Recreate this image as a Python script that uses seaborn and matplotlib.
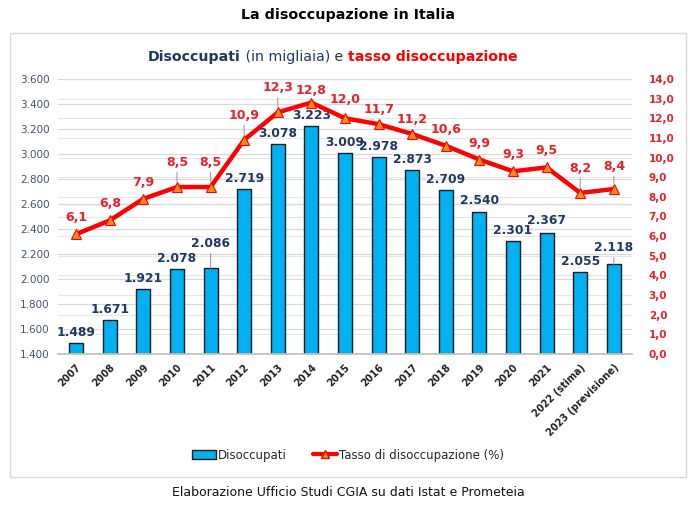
import matplotlib
matplotlib.use("Agg")
import matplotlib.pyplot as plt
from matplotlib.patches import Rectangle, Patch
from matplotlib.lines import Line2D
import seaborn as sns
import numpy as np
import pandas as pd

years = ["2007", "2008", "2009", "2010", "2011", "2012", "2013", "2014", "2015",
         "2016", "2017", "2018", "2019", "2020", "2021", "2022 (stima)", "2023 (previsione)"]
disoccupati = [1489, 1671, 1921, 2078, 2086, 2719, 3078, 3223, 3009, 2978, 2873,
               2709, 2540, 2301, 2367, 2055, 2118]
tasso = [6.1, 6.8, 7.9, 8.5, 8.5, 10.9, 12.3, 12.8, 12.0, 11.7, 11.2, 10.6, 9.9,
         9.3, 9.5, 8.2, 8.4]
left_ticks = list(range(1400, 3601, 200))
right_ticks = list(range(0, 15))

# label styles (pixel offsets, leader line flags)
bar_off = [4, 4, 4, 4, 18, 4, 4, 4, 4, 4, 4, 4, 4, 4, 6, 4, 10]
bar_lead = [False, False, False, False, True, False, False, False, False, False,
            False, False, False, False, False, False, True]
line_off = [4, 4, 4, 12, 12, 12, 12, 0, 6, 2, 2, 4, 4, 4, 4, 12, 10]
line_lead = [False, False, False, True, True, True, True, False, False, False,
             False, False, False, False, False, True, True]

NAVY = "#1F3864"
RED = "#FF0000"
LRED = "#E8202A"

sns.set_theme(style="white")
plt.rcParams["font.family"] = ["DejaVu Sans"]

W, H = 696, 522
fig = plt.figure(figsize=(W / 100, H / 100), dpi=100)

# frame
fig.patches.append(Rectangle((10 / W, 1 - 477 / H), 676 / W, 444 / H,
                             transform=fig.transFigure, fill=False,
                             edgecolor="#d9d9d9", linewidth=1.0))

ax = fig.add_axes([58 / W, 1 - 354 / H, 574 / W, 275 / H])
df = pd.DataFrame({"anno": years, "disoccupati": disoccupati, "tasso": tasso,
                   "pos": np.arange(len(years))})

sns.barplot(data=df, x="anno", y="disoccupati", ax=ax, color="#00B0F0",
            edgecolor="#1a1a1a", linewidth=1.0, width=0.42, saturation=1)
ax.set_ylim(1400, 3600)
ax.set_xlim(-0.54, len(years) - 0.46)
ax.set_yticks(left_ticks)
ax.set_yticklabels([f"{v:,}".replace(",", ".") for v in left_ticks],
                   fontsize=7.5, color="#44546A")
ax.set_xlabel("")
ax.set_ylabel("")
ax.set_xticks(np.arange(len(years)))
ax.set_xticklabels(years, rotation=45, ha="right", rotation_mode="anchor",
                   fontsize=7.0, fontweight="bold", color="#222222")
ax.set_xticks(np.arange(len(years) + 1) - 0.5, minor=True)
ax.tick_params(axis="x", which="major", length=0, pad=6)
ax.tick_params(axis="x", which="minor", length=4, color="#bfbfbf", direction="out")
ax.tick_params(axis="y", length=0, pad=6)
ax.grid(axis="y", color="#d9d9d9", linewidth=0.9)
ax.set_axisbelow(True)
for s in ["top", "right", "left"]:
    ax.spines[s].set_visible(False)
ax.spines["bottom"].set_color("#bfbfbf")

for i, v in enumerate(disoccupati):
    ax.annotate(f"{v:,}".replace(",", "."), xy=(i, v), xytext=(0, bar_off[i]),
                textcoords="offset pixels", ha="center", va="bottom",
                fontsize=8.8, fontweight="bold", color=NAVY,
                arrowprops=dict(arrowstyle="-", color="#a0a0a0", lw=0.8,
                                shrinkA=0, shrinkB=0) if bar_lead[i] else None)

ax2 = ax.twinx()
ax2.set_ylim(0, 14)
ax2.grid(axis="y", color="#e6e6e6", linewidth=0.8)
ax2.set_axisbelow(True)
ax.set_zorder(ax2.get_zorder() + 1)
ax.patch.set_visible(False)
ax2.patch.set_visible(True)
ax2.patch.set_facecolor("white")

ax3 = ax.twinx()
ax3.set_ylim(0, 14)
ax3.set_zorder(ax.get_zorder() + 1)
ax3.patch.set_visible(False)
sns.lineplot(data=df, x="pos", y="tasso", ax=ax3, color=RED, linewidth=3.2,
             marker="^", markersize=7, markerfacecolor="#FF8C1A",
             markeredgecolor=RED, markeredgewidth=0.8)
ax3.set_xlim(-0.54, len(years) - 0.46)
ax3.set_ylabel("")
ax3.set_xlabel("")
ax3.set_yticks([])
for s in ax3.spines.values():
    s.set_visible(False)

ax2.set_yticks(right_ticks)
ax2.set_yticklabels([f"{v:.1f}".replace(".", ",") for v in right_ticks],
                    fontsize=7.5, fontweight="bold", color=LRED)
ax2.tick_params(axis="y", length=0, pad=12)
for s in ax2.spines.values():
    s.set_visible(False)

for i, v in enumerate(tasso):
    ax3.annotate(f"{v:.1f}".replace(".", ","), xy=(i, v), xytext=(0, line_off[i] + 6),
                 textcoords="offset pixels", ha="center", va="bottom",
                 fontsize=9, fontweight="bold", color=LRED,
                 arrowprops=dict(arrowstyle="-", color="#a0a0a0", lw=0.8,
                                 shrinkA=0, shrinkB=4) if line_lead[i] else None)

# titles
fig.text(0.5, 1 - 15 / H, "La disoccupazione in Italia", ha="center", va="center",
         fontsize=10.3, fontweight="bold", color="black")

t1 = fig.text(148 / W, 1 - 57 / H, "Disoccupati", ha="left", va="center",
              fontsize=10.2, fontweight="bold", color=NAVY)
t2 = ax.annotate(" (in migliaia)", xy=(1, 0), xycoords=t1, va="bottom", ha="left",
                 fontsize=10.2, color=NAVY, annotation_clip=False)
t3 = ax.annotate(" e ", xy=(1, 0), xycoords=t2, va="bottom", ha="left",
                 fontsize=10.2, color="#333333", annotation_clip=False)
t4 = ax.annotate("tasso disoccupazione", xy=(1, 0), xycoords=t3, va="bottom",
                 ha="left", fontsize=10.2, fontweight="bold", color=RED,
                 annotation_clip=False)

handles = [Patch(facecolor="#00B0F0", edgecolor="#1a1a1a", linewidth=1.0),
           Line2D([0], [0], color=RED, linewidth=3, marker="^", markersize=6,
                  markerfacecolor="#FF8C1A", markeredgecolor=RED)]
fig.legend(handles, ["Disoccupati", "Tasso di disoccupazione (%)"], loc="center",
           bbox_to_anchor=(0.5, 1 - 455 / H), ncol=2, frameon=False, fontsize=8.5,
           handlelength=2.0, handletextpad=0.2, columnspacing=2.2)

fig.text(0.5, 1 - 493 / H, "Elaborazione Ufficio Studi CGIA su dati Istat e Prometeia",
         ha="center", va="center", fontsize=9, color="#111111")

fig.savefig("out.png", dpi=100)
